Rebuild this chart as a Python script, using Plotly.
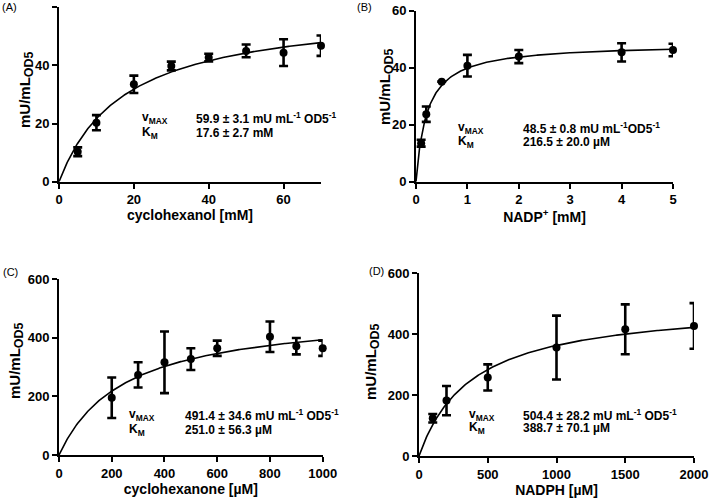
import numpy as np
import plotly.graph_objects as go

W, H = 709, 499

# ---------------- data ----------------
a_x = [5, 10, 20, 30, 40, 50, 60, 70]
a_y = [10.3, 20.3, 33.5, 39.8, 42.7, 45.0, 44.4, 46.8]
a_err = [1.5, 2.6, 3.0, 1.5, 1.3, 2.2, 4.6, 3.5]
a_vmax, a_km = 59.9, 17.6

b_x = [0.1, 0.2, 0.5, 1, 2, 4, 5]
b_y = [13.5, 23.7, 35.1, 40.7, 43.9, 45.4, 46.2]
b_err = [1.2, 2.7, 0.0, 3.8, 2.3, 3.2, 2.2]
b_vmax, b_km = 48.5, 0.2165

c_x = [200, 300, 400, 500, 600, 800, 900, 1000]
c_y = [195, 273, 316, 327, 364, 403, 371, 364]
c_err = [69, 43, 105, 37, 26, 52, 28, 26]
c_vmax, c_km = 491.4, 251.0

d_x = [100, 200, 500, 1000, 1500, 2000]
d_y = [124, 182, 258, 356, 416, 427]
d_err = [14, 48, 43, 105, 82, 75]
d_vmax, d_km = 504.4, 388.7

a_xticks = [0, 20, 40, 60]
a_yticks = [0, 20, 40, 60]
b_xticks = [0, 1, 2, 3, 4, 5]
b_yticks = [0, 20, 40, 60]
c_xticks = [0, 200, 400, 600, 800, 1000]
c_yticks = [0, 200, 400, 600]
d_xticks = [0, 500, 1000, 1500, 2000]
d_yticks = [0, 200, 400, 600]

y_title = "mU/mL<sub><span style='font-size:12.5px'>OD5</span></sub>"

FONT = "Liberation Sans, Arial, sans-serif"


def px(x):
    return x / W


def py(y):
    return 1 - y / H


panels = [
    dict(x=a_x, y=a_y, e=a_err, vmax=a_vmax, km=a_km, xr=[0, 70], yr=[0, 60],
         xt=a_xticks, yt=a_yticks, dom_x=[59, 321], dom_y=[181.7, 7.3],
         xtitle="cyclohexanol [mM]", label="(A)", lab_pos=(0, 7), ytpos=(26, 90), xstand=3,
         vtxt="59.9 ± 3.1 mU mL<sup>-1</sup> OD5<sup>-1</sup>", ktxt="17.6 ± 2.7 mM",
         tpos=(140, 194, 118, 133)),
    dict(x=b_x, y=b_y, e=b_err, vmax=b_vmax, km=b_km, xr=[0, 5], yr=[0, 60],
         xt=b_xticks, yt=b_yticks, dom_x=[416, 673], dom_y=[181.7, 10.7],
         xtitle="NADP<sup>+</sup> [mM]", label="(B)", lab_pos=(355, 7), ytpos=(386, 87), xstand=5,
         vtxt="48.5 ± 0.8 mU mL<sup>-1</sup>OD5<sup>-1</sup>", ktxt="216.5 ± 20.0 µM",
         tpos=(456, 521, 128, 142)),
    dict(x=c_x, y=c_y, e=c_err, vmax=c_vmax, km=c_km, xr=[0, 1000], yr=[0, 600],
         xt=c_xticks, yt=c_yticks, dom_x=[59, 322.7], dom_y=[455, 279],
         xtitle="cyclohexanone [µM]", label="(C)", lab_pos=(1, 272), ytpos=(16, 361), xstand=3,
         vtxt="491.4 ± 34.6 mU mL<sup>-1</sup> OD5<sup>-1</sup>", ktxt="251.0 ± 56.3 µM",
         tpos=(127, 183, 415, 430)),
    dict(x=d_x, y=d_y, e=d_err, vmax=d_vmax, km=d_km, xr=[0, 2000], yr=[0, 600],
         xt=d_xticks, yt=d_yticks, dom_x=[419, 694], dom_y=[456, 273.3],
         xtitle="NADPH [µM]", label="(D)", lab_pos=(367, 271), ytpos=(372, 362), xstand=5,
         vtxt="504.4 ± 28.2 mU mL<sup>-1</sup> OD5<sup>-1</sup>", ktxt="388.7 ± 70.1 µM",
         tpos=(467, 521, 415, 428)),
]

fig = go.Figure()
annotations = []
layout = dict(
    width=W, height=H, margin=dict(l=0, r=0, t=0, b=0),
    paper_bgcolor="white", plot_bgcolor="white", showlegend=False,
    font=dict(family=FONT, color="black"),
)

for i, p in enumerate(panels):
    n = "" if i == 0 else str(i + 1)
    xa, ya = "x" + n, "y" + n
    xfit = np.linspace(0, p["xr"][1], 300)
    yfit = p["vmax"] * xfit / (p["km"] + xfit)
    fig.add_trace(go.Scatter(x=xfit, y=yfit, mode="lines", xaxis=xa, yaxis=ya,
                             line=dict(color="black", width=1.6), cliponaxis=False,
                             hoverinfo="skip"))
    fig.add_trace(go.Scatter(x=p["x"], y=p["y"], mode="markers", xaxis=xa, yaxis=ya,
                             marker=dict(color="black", size=8), cliponaxis=False,
                             error_y=dict(type="data", array=p["e"], visible=True,
                                          color="black", thickness=2.6, width=4.5)))
    axcommon = dict(showgrid=False, zeroline=False, showline=True, linecolor="black",
                    linewidth=2, ticks="outside", ticklen=5, tickwidth=2,
                    tickcolor="black", automargin=False,
                    tickfont=dict(family=FONT, size=13, color="black"))
    layout["xaxis" + n] = dict(
        axcommon, domain=[px(p["dom_x"][0]), px(p["dom_x"][1])], range=p["xr"],
        tickvals=p["xt"], ticktext=[f"<b>{v}</b>" for v in p["xt"]], anchor=ya,
        title=dict(text=f"<b>{p['xtitle']}</b>", standoff=p["xstand"],
                   font=dict(family=FONT, size=14, color="black")))
    layout["yaxis" + n] = dict(
        axcommon, domain=[py(p["dom_y"][0]), py(p["dom_y"][1])], range=p["yr"],
        tickvals=p["yt"], ticktext=[f"<b>{v}</b>" for v in p["yt"]], anchor=xa)
    annotations.append(dict(text=f"<b>{y_title}</b>", x=px(p["ytpos"][0]),
                            y=py(p["ytpos"][1]), xref="paper", yref="paper",
                            xanchor="center", yanchor="middle", textangle=-90,
                            showarrow=False, font=dict(family=FONT, size=15, color="black")))
    annotations.append(dict(text=p["label"], x=px(p["lab_pos"][0]), y=py(p["lab_pos"][1]),
                            xref="paper", yref="paper", xanchor="left", yanchor="middle",
                            showarrow=False, font=dict(family=FONT, size=11, color="black")))
    tx1, tx2, ty1, ty2 = p["tpos"]
    tf = dict(family=FONT, size=12, color="black")
    for txt, xx, yy in [("v<sub>MAX</sub>", tx1, ty1), ("K<sub>M</sub>", tx1, ty2),
                        (p["vtxt"], tx2, ty1), (p["ktxt"], tx2, ty2)]:
        annotations.append(dict(text=f"<b>{txt}</b>", x=px(xx), y=py(yy), xref="paper",
                                yref="paper", xanchor="left", yanchor="middle",
                                showarrow=False, font=tf))

layout["annotations"] = annotations
fig.update_layout(**layout)
fig.write_html("out.html", config={"displayModeBar": False},
               post_script="document.body.style.margin='0';document.body.style.padding='0';")
